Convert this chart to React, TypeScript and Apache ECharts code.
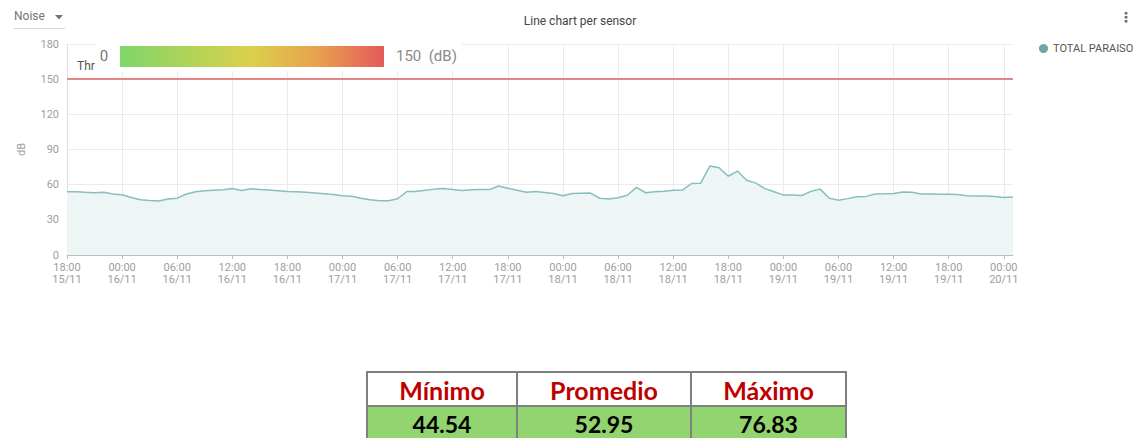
import React, { useEffect, useRef } from "react";
import * as echarts from "echarts";

// hourly readings from 15/11 18:00 to 20/11 01:00
const START_DAY = 15;
const START_HOUR = 18;
const noiseValues = [
  54.0, 54.0, 53.5, 53.1, 53.5, 52.0, 51.4, 49.0, 47.1, 46.5,
  46.0, 47.8, 48.5, 52.0, 54.0, 54.8, 55.2, 55.6, 56.8, 55.0,
  56.5, 55.8, 55.4, 54.8, 54.2, 53.9, 53.5, 52.9, 52.3, 51.7,
  50.6, 50.2, 48.5, 47.2, 46.3, 46.3, 48.0, 54.2, 54.2, 55.3,
  56.2, 56.8, 55.8, 55.0, 55.7, 55.8, 55.8, 58.8, 57.0, 55.2,
  53.5, 54.2, 53.4, 52.4, 50.6, 52.5, 52.7, 52.8, 48.4, 47.7,
  48.9, 51.0, 57.7, 53.1, 54.0, 54.4, 55.3, 55.4, 61.0, 61.3,
  76.0, 74.4, 67.2, 71.6, 63.7, 61.3, 56.6, 54.0, 51.1, 51.1,
  50.8, 54.3, 56.2, 48.4, 46.8, 48.1, 49.7, 50.0, 52.0, 52.2,
  52.5, 53.7, 53.5, 52.0, 52.0, 51.8, 51.9, 51.6, 50.6, 50.4,
  50.3, 50.0, 49.1, 49.4,
];
const THRESHOLD = 150;
const yTicks = { min: 0, max: 180, interval: 30 };
const statHeaders = ["Mínimo", "Promedio", "Máximo"];
const statValues = ["44.54", "52.95", "76.83"];
const seriesName = "TOTAL PARAISO";

const pad = (n: number) => (n < 10 ? "0" + n : "" + n);
const categories = noiseValues.map((_, i) => {
  const total = START_HOUR + i;
  const hh = total % 24;
  const dd = START_DAY + Math.floor(total / 24);
  return `${pad(hh)}:00\n${pad(dd)}/11`;
});

export default function App() {
  const ref = useRef<HTMLDivElement>(null);
  useEffect(() => {
    if (!ref.current) return;
    const chart = echarts.init(ref.current, undefined, { renderer: "svg" });
    const gray = "#9e9e9e";
    const font = "Roboto";
    const colX = [367, 517, 691, 846];
    const tableGraphics: any[] = [];
    for (let c = 0; c < 3; c++) {
      const x0 = colX[c];
      const w = colX[c + 1] - x0;
      tableGraphics.push({
        type: "rect",
        shape: { x: x0, y: 372, width: w, height: 34 },
        style: { fill: "#ffffff", stroke: "#7f7f7f", lineWidth: 2 },
      });
      tableGraphics.push({
        type: "rect",
        shape: { x: x0, y: 406, width: w, height: 40 },
        style: { fill: "#92d46f", stroke: "#7f7f7f", lineWidth: 2 },
      });
      tableGraphics.push({
        type: "text",
        x: x0 + w / 2,
        y: 390,
        style: {
          text: statHeaders[c],
          fill: "#c00000",
          font: "bold 25px Lato",
          align: "center",
          verticalAlign: "middle",
        },
      });
      tableGraphics.push({
        type: "text",
        x: x0 + w / 2,
        y: 424,
        style: {
          text: statValues[c],
          fill: "#000000",
          font: "bold 23px Lato",
          align: "center",
          verticalAlign: "middle",
        },
      });
    }

    chart.setOption({
      animation: false,
      backgroundColor: "#ffffff",
      title: {
        text: "Line chart per sensor",
        left: 575,
        textAlign: "center",
        top: 10,
        textStyle: { fontFamily: font, fontSize: 12, fontWeight: "normal", color: "#444" },
      },
      legend: {
        left: 1034,
        top: 38,
        orient: "vertical",
        icon: "circle",
        itemWidth: 9,
        itemHeight: 9,
        itemGap: 6,
        textStyle: { fontFamily: font, fontSize: 11, color: "#555" },
        data: [seriesName],
      },
      grid: { left: 67, right: 120, top: 44, bottom: 183, containLabel: false },
      xAxis: {
        type: "category",
        data: categories,
        boundaryGap: false,
        axisLine: { show: true, lineStyle: { color: "#bdbdbd", width: 1 } },
        axisTick: { show: true, interval: 5, length: 4, lineStyle: { color: "#bdbdbd" } },
        axisLabel: {
          interval: 5,
          color: gray,
          fontFamily: font,
          fontSize: 11,
          lineHeight: 12,
          margin: 6,
        },
        splitLine: { show: true, interval: 5, lineStyle: { color: "#ebebeb" } },
      },
      yAxis: {
        type: "value",
        min: yTicks.min,
        max: yTicks.max,
        interval: yTicks.interval,
        name: "dB",
        nameLocation: "middle",
        nameGap: 40,
        nameTextStyle: { color: gray, fontFamily: font, fontSize: 11 },
        axisLine: { show: true, lineStyle: { color: "#e0e0e0" } },
        axisTick: { show: false },
        axisLabel: { color: gray, fontFamily: font, fontSize: 11, margin: 8 },
        splitLine: { show: true, lineStyle: { color: "#ebebeb" } },
      },
      series: [
        {
          name: seriesName,
          type: "line",
          data: noiseValues,
          symbol: "none",
          showSymbol: false,
          lineStyle: { color: "#86bfbd", width: 1.5 },
          itemStyle: { color: "#6aa9a6" },
          areaStyle: { color: "#eef5f5", opacity: 1 },
          markLine: {
            silent: true,
            symbol: "none",
            label: { show: false },
            lineStyle: { color: "#e48585", width: 2, type: "solid" },
            data: [{ yAxis: THRESHOLD }],
          },
          z: 2,
        },
      ],
      graphic: [
        {
          type: "text",
          left: 14,
          top: 10,
          style: { text: "Noise", fill: "#757575", font: "12px Roboto" },
        },
        {
          type: "polygon",
          shape: { points: [[55, 15], [63, 15], [59, 19.5]] },
          style: { fill: "#757575" },
        },
        {
          type: "line",
          shape: { x1: 14, y1: 28.5, x2: 65, y2: 28.5 },
          style: { stroke: "#d6d6d6", lineWidth: 1 },
        },
        {
          type: "text",
          x: 1126,
          y: 17,
          style: { text: "⋮", fill: "#666", font: "bold 14px DejaVu Sans", align: "center", verticalAlign: "middle" },
        },
        {
          type: "text",
          x: 77,
          y: 66,
          z: 10,
          style: { text: "Thr", fill: "#555", font: "12px Roboto", verticalAlign: "middle" },
        },
        {
          type: "rect",
          z: 20,
          shape: { x: 96, y: 44, width: 366, height: 27 },
          style: { fill: "#ffffff" },
        },
        {
          type: "text",
          z: 21,
          x: 104,
          y: 56,
          style: { text: "0", fill: "#757575", font: "15px Roboto", align: "center", verticalAlign: "middle" },
        },
        {
          type: "rect",
          z: 21,
          shape: { x: 120, y: 46, width: 264, height: 21 },
          style: {
            fill: new echarts.graphic.LinearGradient(0, 0, 1, 0, [
              { offset: 0, color: "#7fd66a" },
              { offset: 0.5, color: "#dcd04a" },
              { offset: 0.75, color: "#e8a050" },
              { offset: 1, color: "#e55a5a" },
            ]),
          },
        },
        {
          type: "text",
          z: 21,
          x: 396,
          y: 56,
          style: { text: "150  (dB)", fill: "#8a8a8a", font: "15px Roboto", verticalAlign: "middle" },
        },
        ...tableGraphics,
      ],
    });
    return () => chart.dispose();
  }, []);
  return (
    <div
      ref={ref}
      style={{ position: "absolute", left: 0, top: 0, width: 1133, height: 438 }}
    />
  );
}
